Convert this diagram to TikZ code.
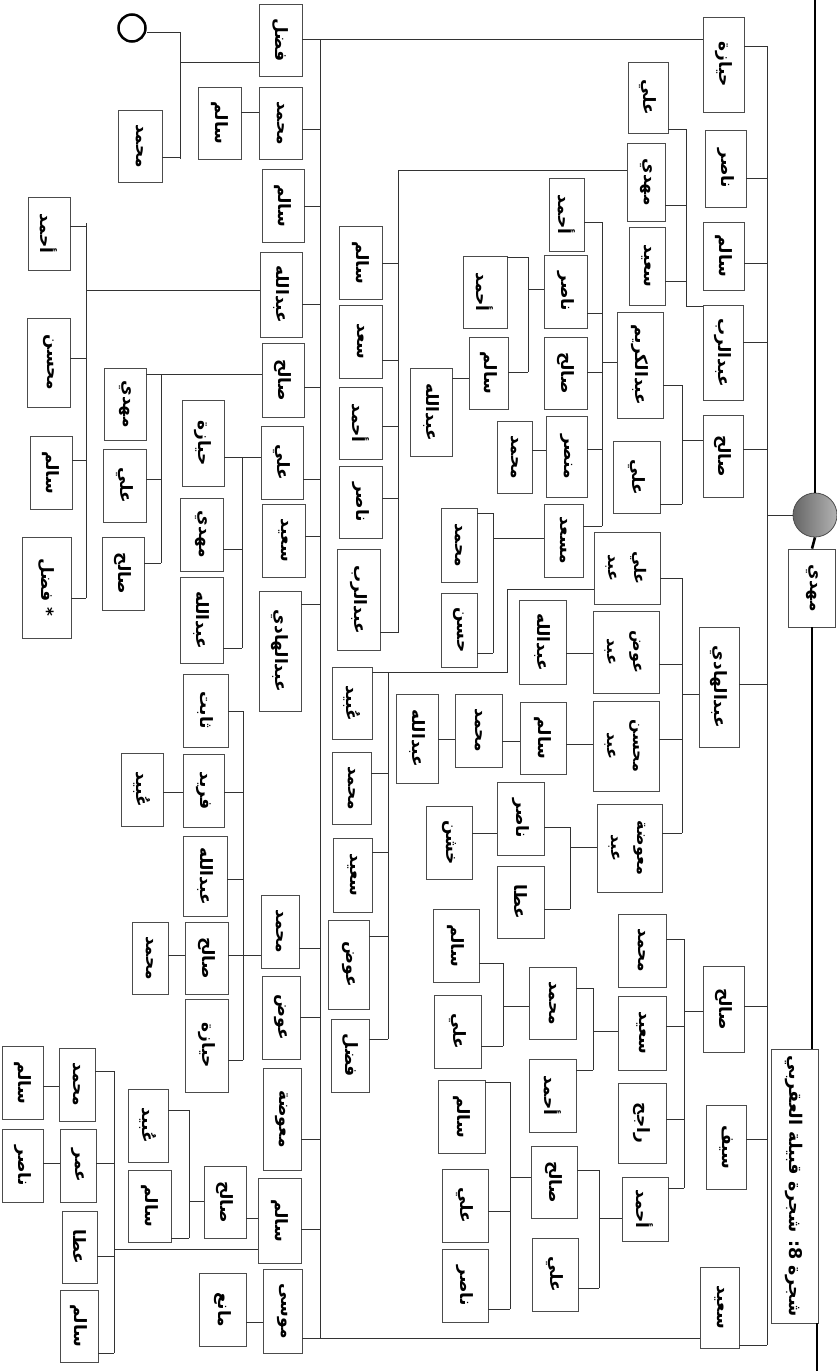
\documentclass[tikz,border=0pt]{standalone}
\usepackage{fontspec}
\usepackage{graphicx}
\newfontfamily\arabicfont[Script=Arabic]{DejaVu Sans}
\TeXXeTstate=1
\newcommand{\nm}[1]{\rotatebox{-90}{\arabicfont\bfseries\fontsize{17}{27}\selectfont\beginR#1\endR}}
\newcommand{\nmm}[2]{\rotatebox{-90}{\arabicfont\bfseries\fontsize{16}{26}\selectfont
  \begin{tabular}{@{}c@{}}\beginR#1\endR\\\beginR#2\endR\end{tabular}}}

\begin{document}
\begin{tikzpicture}[x=1pt, y=-1pt,
box/.style 2 args={draw=black!70, fill=white, line width=0.8pt, inner sep=0pt,
  minimum width=#1pt, minimum height=#2pt},
link/.style={draw=black!80, line width=0.9pt},
trunk/.style={draw=black, line width=2.6pt}
]
\useasboundingbox (0,0) rectangle (837,1371);

% root, title
\node[circle, draw=black!70, line width=0.8pt, left color=black!60, right color=black!30,
  minimum size=44pt, inner sep=0pt] (ball) at (815,515) {};
\node[box={47}{78}] (root) at (812,588) {\nm{مهدي}};
\node[box={47}{274}] (title) at (794.5,1186)
  {\rotatebox{-90}{\arabicfont\bfseries\fontsize{17.5}{24}\selectfont\beginR شجرة 8: شجرة قبيلة العقربي\endR}};
\coordinate (top) at (815,0);
\coordinate (bot) at (817,1371);
\draw[trunk] (top) -- (ball.north);
\draw[trunk] (ball.south) -- (root.north);
\draw[trunk] (root.south) -- (root.south |- title.north);
\draw[trunk] (bot |- title.south) -- (bot);

% sons of the root
\node[box={41}{95}] (r1) at (723.5,64.5) {\nm{حيازة}};
\node[box={41}{77}] (r2) at (725.5,168.5) {\nm{ناصر}};
\node[box={41}{68}] (r3) at (723.5,256) {\nm{سالم}};
\node[box={40}{95}] (r4) at (723,352.5) {\nm{عبدالرب}};
\node[box={40}{82}] (r5) at (723,456) {\nm{صالح}};
\node[box={40}{120}] (r6) at (719,687) {\nm{عبدالهادي}};
\node[box={41}{86}] (r7) at (723.5,1009) {\nm{صالح}};
\node[box={40}{84}] (r8) at (726,1147) {\nm{سيف}};
\node[box={39}{81}] (r9) at (719.5,1307.5) {\nm{سعيد}};
\draw[link] (767,46) -- (767,1345);
\draw[link] (ball.west) -- (767,515);
\foreach \n/\y in {r1/46,r2/178,r3/263,r4/342,r5/449,r6/684,r7/1006,r8/1139,r9/1345}
  \draw[link] (\n.east |- 0,\y) -- (767,\y);

% children of r4 and r5
\node[box={40}{71}] (c21) at (648,97.5) {\nm{علي}};
\node[box={38}{78}] (c22) at (646,182) {\nm{مهدي}};
\node[box={36}{78}] (c23) at (647,266) {\nm{سعيد}};
\draw[link] (686,129) -- (686,306) -- (r4.west |- 0,306);
\foreach \n/\y in {c21/129,c22/205,c23/281}
  \draw[link] (\n.east |- 0,\y) -- (686,\y);
\node[box={46}{106}] (c24) at (640,365) {\nm{عبدالكريم}};
\node[box={47}{72}] (c25) at (636.5,477) {\nm{علي}};
\draw[link] (682,385) -- (682,504);
\draw[link] (682,440) -- (r5.west |- 0,440);
\foreach \n/\y in {c24/385,c25/504}
  \draw[link] (\n.east |- 0,\y) -- (682,\y);

% children of c24
\node[box={35}{73}] (c31) at (566.5,214.5) {\nm{أحمد}};
\node[box={43}{73}] (c32) at (565.5,291.5) {\nm{ناصر}};
\node[box={43}{72}] (c33) at (565.5,373) {\nm{صالح}};
\node[box={41}{81}] (c34) at (566.5,456.5) {\nm{منصر}};
\node[box={39}{73}] (c35) at (563.5,540.5) {\nm{مسعد}};
\draw[link] (602,222) -- (602,526);
\draw[link] (602,362) -- (c24.west |- 0,362);
\foreach \n/\y in {c31/222,c32/313,c33/372,c34/449,c35/526}
  \draw[link] (\n.east |- 0,\y) -- (602,\y);
\node[box={44}{72}] (c41) at (485,292) {\nm{أحمد}};
\node[box={39}{72}] (c42) at (488.5,373) {\nm{سالم}};
\node[box={42}{88}] (c43) at (431,412) {\nm{عبدالله}};
\draw[link] (528,257) -- (528,372);
\draw[link] (528,289) -- (c32.west |- 0,289);
\foreach \n/\y in {c41/257,c42/372}
  \draw[link] (\n.east |- 0,\y) -- (528,\y);
\draw[link] (c43.east |- 0,378) -- (c42.west |- 0,378);
\node[box={35}{72}] (c44) at (514.5,457) {\nm{محمد}};
\draw[link] (c44.east |- 0,450) -- (c34.west |- 0,450);
\node[box={36}{74}] (c45) at (459,545) {\nm{محمد}};
\node[box={36}{74}] (c46) at (459,630) {\nm{حسن}};
\draw[link] (493,513) -- (493,653);
\draw[link] (493,538) -- (c35.west |- 0,538);
\foreach \n/\y in {c45/513,c46/653}
  \draw[link] (\n.east |- 0,\y) -- (493,\y);

% children of c22
\node[box={43}{73}] (c51) at (360.5,262.5) {\nm{سالم}};
\node[box={43}{73}] (c52) at (360.5,341.5) {\nm{سعد}};
\node[box={43}{72}] (c53) at (360.5,423) {\nm{أحمد}};
\node[box={43}{72}] (c54) at (360.5,502) {\nm{ناصر}};
\node[box={43}{101}] (c55) at (358.5,599.5) {\nm{عبدالرب}};
\draw[link] (398,170) -- (398,633);
\draw[link] (398,170) -- (c22.west |- 0,170);
\foreach \n/\y in {c51/263,c52/360,c53/426,c54/498,c55/632}
  \draw[link] (\n.east |- 0,\y) -- (398,\y);

% children of r6
\node[box={66}{72}] (c61) at (627,568) {\nmm{علي}{عبد}};
\node[box={66}{82}] (c62) at (626,652) {\nmm{عوض}{عبد}};
\node[box={66}{90}] (c63) at (626,746) {\nmm{محسن}{عبد}};
\node[box={65}{88}] (c64) at (629.5,848) {\nmm{معوضة}{عبد}};
\draw[link] (682,578) -- (682,833);
\draw[link] (682,694) -- (r6.west |- 0,694);
\foreach \n/\y in {c61/578,c62/664,c63/739,c64/833}
  \draw[link] (\n.east |- 0,\y) -- (682,\y);
\node[box={40}{72}] (c71) at (352,703) {\nm{عُبيد}};
\node[box={39}{72}] (c72) at (351.5,788) {\nm{محمد}};
\node[box={39}{74}] (c73) at (352.5,875) {\nm{سعيد}};
\node[box={41}{89}] (c74) at (348.5,964.5) {\nm{عوض}};
\node[box={38}{73}] (c75) at (350,1055.5) {\nm{فضل}};
\draw[link] (388,672) -- (388,1039);
\draw[link] (388,672) -- (507,672) -- (507,589) -- (c61.west |- 0,589);
\foreach \n/\y in {c71/672,c72/773,c73/852,c74/936,c75/1039}
  \draw[link] (\n.east |- 0,\y) -- (388,\y);
\node[box={47}{84}] (c76) at (542.5,642) {\nm{عبدالله}};
\draw[link] (c76.east |- 0,653) -- (c62.west |- 0,653);
\node[box={46}{72}] (c77) at (543,738) {\nm{سالم}};
\node[box={47}{73}] (c78) at (478.5,730.5) {\nm{محمد}};
\node[box={42}{89}] (c79) at (417,738.5) {\nm{عبدالله}};
\draw[link] (c77.east |- 0,744) -- (c63.west |- 0,744);
\draw[link] (c78.east |- 0,741) -- (c77.west |- 0,741);
\draw[link] (c79.east |- 0,739) -- (c78.west |- 0,739);
\node[box={47}{73}] (c80) at (520.5,818.5) {\nm{ناصر}};
\node[box={47}{72}] (c81) at (520.5,902) {\nm{عطا}};
\node[box={46}{73}] (c82) at (449,842.5) {\nm{خشن}};
\draw[link] (570,827) -- (570,909);
\draw[link] (570,847) -- (c64.west |- 0,847);
\foreach \n/\y in {c80/827,c81/909}
  \draw[link] (\n.east |- 0,\y) -- (570,\y);
\draw[link] (c82.east |- 0,833) -- (c80.west |- 0,833);

% children of r7
\node[box={48}{73}] (d1) at (642,950.5) {\nm{محمد}};
\node[box={48}{74}] (d2) at (642,1033) {\nm{سعيد}};
\node[box={48}{80}] (d3) at (642,1123) {\nm{راجح}};
\node[box={46}{64}] (d4) at (645,1209) {\nm{أحمد}};
\draw[link] (684,939) -- (684,1188);
\draw[link] (684,1011) -- (r7.west |- 0,1011);
\foreach \n/\y in {d1/939,d2/1026,d3/1119,d4/1188}
  \draw[link] (\n.east |- 0,\y) -- (684,\y);
\node[box={47}{72}] (d5) at (552.5,1003) {\nm{محمد}};
\node[box={47}{73}] (d6) at (552.5,1095.5) {\nm{أحمد}};
\draw[link] (593,988) -- (593,1070);
\draw[link] (593,1031) -- (d2.west |- 0,1031);
\foreach \n/\y in {d5/988,d6/1070}
  \draw[link] (\n.east |- 0,\y) -- (593,\y);
\node[box={46}{73}] (d7) at (456,945.5) {\nm{سالم}};
\node[box={47}{73}] (d8) at (457.5,1031.5) {\nm{علي}};
\draw[link] (503,963) -- (503,1046);
\draw[link] (503,1006) -- (d5.west |- 0,1006);
\foreach \n/\y in {d7/963,d8/1046}
  \draw[link] (\n.east |- 0,\y) -- (503,\y);
\node[box={46}{72}] (d9) at (554,1182) {\nm{صالح}};
\node[box={46}{73}] (d10) at (555,1274.5) {\nm{علي}};
\draw[link] (599,1170) -- (599,1288);
\draw[link] (599,1218) -- (d4.west |- 0,1218);
\foreach \n/\y in {d9/1170,d10/1288}
  \draw[link] (\n.east |- 0,\y) -- (599,\y);
\node[box={47}{73}] (d11) at (461.5,1116.5) {\nm{سالم}};
\node[box={46}{73}] (d12) at (465,1205.5) {\nm{علي}};
\node[box={46}{73}] (d13) at (465,1285.5) {\nm{ناصر}};
\draw[link] (510,1082) -- (510,1309);
\draw[link] (510,1177) -- (d9.west |- 0,1177);
\foreach \n/\y in {d11/1082,d12/1211,d13/1309}
  \draw[link] (\n.east |- 0,\y) -- (510,\y);

% left branch
\node[box={43}{72}] (l1) at (280.5,40) {\nm{فضل}};
\node[box={43}{72}] (l2) at (280.5,123) {\nm{محمد}};
\node[box={42}{73}] (l3) at (283,205.5) {\nm{سالم}};
\node[box={42}{85}] (l4) at (281,294.5) {\nm{عبدالله}};
\node[box={42}{74}] (l5) at (283,380) {\nm{صالح}};
\node[box={42}{73}] (l6) at (282,462.5) {\nm{علي}};
\node[box={43}{73}] (l7) at (283.5,540.5) {\nm{سعيد}};
\node[box={42}{120}] (l8) at (280,651) {\nm{عبدالهادي}};
\node[box={38}{73}] (l9) at (280,931.5) {\nm{محمد}};
\node[box={38}{83}] (l10) at (281,1017.5) {\nm{عوض}};
\node[box={38}{102}] (l11) at (282,1119) {\nm{معوضة}};
\node[box={43}{85}] (l12) at (279.5,1220.5) {\nm{سالم}};
\node[box={39}{84}] (l13) at (282.5,1311) {\nm{موسى}};
\draw[link] (320,39) -- (320,1338);
\draw[link] (320,39) -- (r1.west |- 0,39);
\draw[link] (320,1338) -- (r9.west |- 0,1338);
\foreach \n/\y in {l1/39,l2/129,l3/206,l4/304,l5/387,l6/479,l7/536,l8/604,l9/948,l10/1017,l11/1139,l12/1229,l13/1338}
  \draw[link] (\n.east |- 0,\y) -- (320,\y);

\node[circle, draw=black, line width=2.5pt, minimum size=27pt, inner sep=0pt] (wife) at (132,28) {};
\node[box={44}{72}] (m0) at (140,146) {\nm{محمد}};
\draw[link] (wife.east |- 0,32) -- (180,32) -- (180,159);
\draw[link] (m0.east |- 0,157) -- (180,157);
\draw[link] (180,62) -- (l1.west |- 0,62);
\node[box={43}{72}] (l21) at (219.5,123) {\nm{سالم}};
\draw[link] (l21.east |- 0,112) -- (l2.west |- 0,112);

\node[box={42}{73}] (a1) at (49,233.5) {\nm{أحمد}};
\node[box={43}{89}] (a2) at (48.5,362.5) {\nm{محسن}};
\node[box={42}{73}] (a3) at (51,472.5) {\nm{سالم}};
\node[box={49}{101}] (a4) at (46.5,587.5) {\nm{* فضل}};
\draw[link] (86,223) -- (86,598);
\draw[link] (86,290) -- (l4.west |- 0,290);
\foreach \n/\y in {a1/226,a2/358,a3/460,a4/598}
  \draw[link] (\n.east |- 0,\y) -- (86,\y);

\node[box={42}{72}] (b1) at (125,404) {\nm{مهدي}};
\node[box={43}{73}] (b2) at (124.5,485.5) {\nm{علي}};
\node[box={42}{73}] (b3) at (123,573.5) {\nm{صالح}};
\draw[link] (161,374) -- (161,563);
\draw[link] (161,374) -- (l5.west |- 0,374);
\foreach \n/\y in {b1/374,b2/479,b3/563}
  \draw[link] (\n.east |- 0,\y) -- (161,\y);
\node[box={42}{86}] (b4) at (203,443) {\nm{حيازة}};
\node[box={43}{73}] (b5) at (201.5,534.5) {\nm{مهدي}};
\node[box={43}{86}] (b6) at (201.5,620) {\nm{عبدالله}};
\draw[link] (242,457) -- (242,648);
\draw[link] (242,457) -- (l6.west |- 0,457);
\foreach \n/\y in {b4/457,b5/549,b6/648}
  \draw[link] (\n.east |- 0,\y) -- (242,\y);

\node[box={45}{73}] (e1) at (205.5,710.5) {\nm{ثابت}};
\node[box={41}{73}] (e2) at (203.5,790.5) {\nm{فريد}};
\node[box={44}{80}] (e3) at (205,876) {\nm{عبدالله}};
\node[box={43}{72}] (e4) at (206.5,958) {\nm{صالح}};
\node[box={43}{93}] (e5) at (206.5,1045.5) {\nm{حيازة}};
\node[box={42}{73}] (e6) at (142,789.5) {\nm{عُبيد}};
\node[box={36}{72}] (e7) at (150,958) {\nm{محمد}};
\draw[link] (243,711) -- (243,1060);
\draw[link] (243,955) -- (l9.west |- 0,955);
\foreach \n/\y in {e1/711,e2/792,e3/879,e4/955,e5/1060}
  \draw[link] (\n.east |- 0,\y) -- (243,\y);
\draw[link] (e6.east |- 0,792) -- (e2.west |- 0,792);
\draw[link] (e7.east |- 0,955) -- (e4.west |- 0,955);

\node[box={42}{72}] (f1) at (225,1202) {\nm{صالح}};
\node[box={40}{73}] (f2) at (148,1125.5) {\nm{عُبيد}};
\node[box={43}{72}] (f3) at (149.5,1206) {\nm{سالم}};
\draw[link] (f1.east |- 0,1218) -- (l12.west |- 0,1218);
\draw[link] (189,1110) -- (189,1238);
\draw[link] (189,1201) -- (f1.west |- 0,1201);
\foreach \n/\y in {f2/1110,f3/1238}
  \draw[link] (\n.east |- 0,\y) -- (189,\y);
\node[box={36}{73}] (g1) at (77,1084.5) {\nm{محمد}};
\node[box={36}{73}] (g2) at (78,1165.5) {\nm{عمر}};
\node[box={35}{72}] (g3) at (79.5,1247) {\nm{عطا}};
\node[box={38}{72}] (g4) at (79,1326) {\nm{سالم}};
\node[box={41}{73}] (g5) at (22.5,1082.5) {\nm{سالم}};
\node[box={41}{73}] (g6) at (22.5,1165.5) {\nm{ناصر}};
\draw[link] (114,1071) -- (114,1353);
\draw[link] (114,1249) -- (l12.west |- 0,1249);
\foreach \n/\y in {g1/1071,g2/1163,g3/1256,g4/1353}
  \draw[link] (\n.east |- 0,\y) -- (114,\y);
\draw[link] (g5.east |- 0,1086) -- (g1.west |- 0,1086);
\draw[link] (g6.east |- 0,1163) -- (g2.west |- 0,1163);
\node[box={47}{73}] (h1) at (222.5,1309.5) {\nm{مانع}};
\draw[link] (h1.east |- 0,1322) -- (l13.west |- 0,1322);
\end{tikzpicture}
\end{document}
